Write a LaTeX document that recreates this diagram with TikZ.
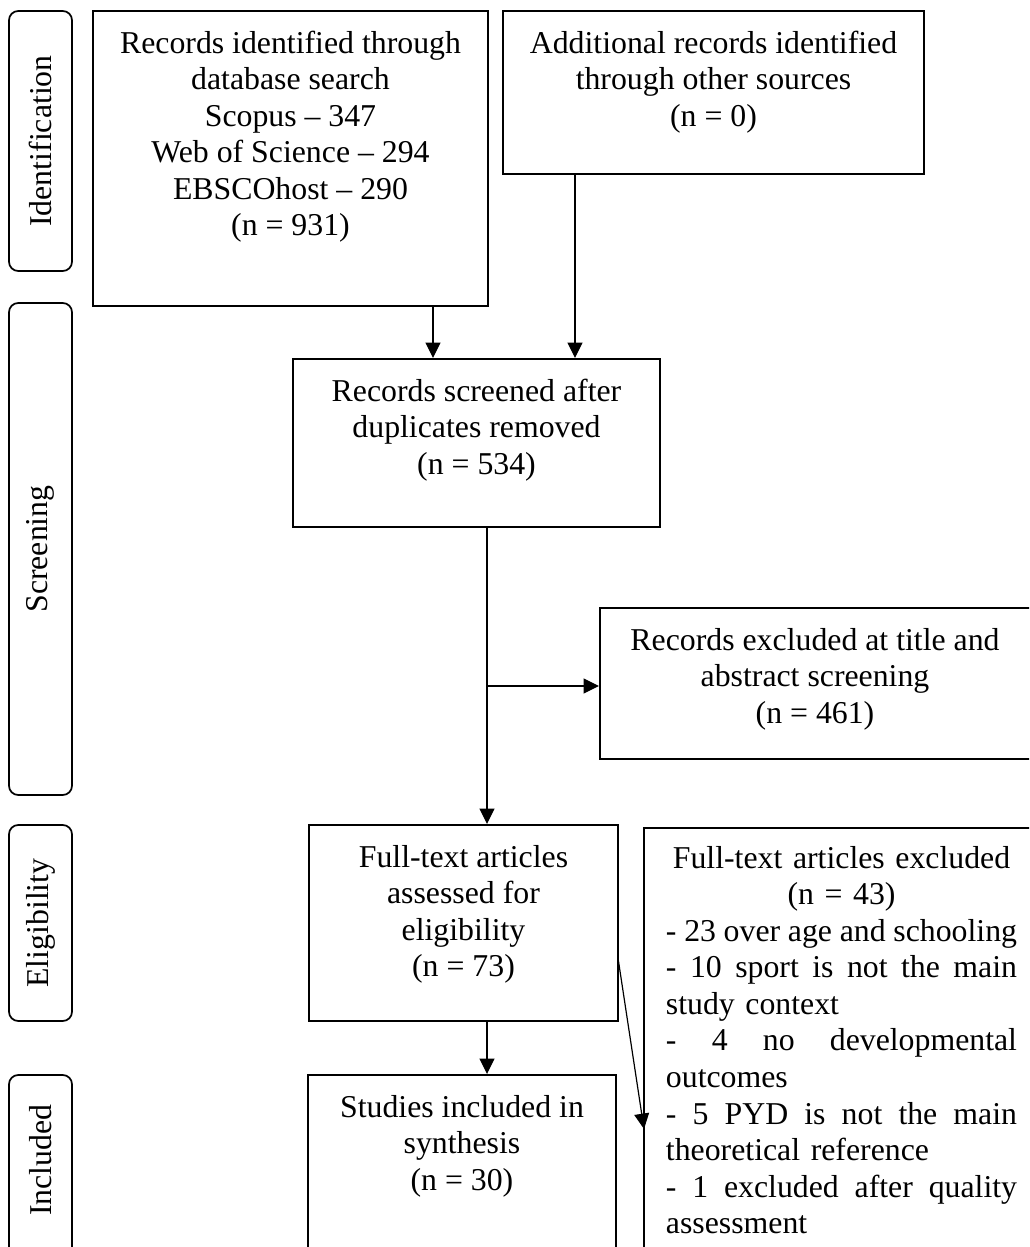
\documentclass[tikz,border=0pt]{standalone}
\usepackage{fontspec}
\setmainfont{Liberation Serif}
\usetikzlibrary{fit,arrows.meta}
\newcommand\jline[1]{\makebox[\linewidth][s]{\spaceskip=0.17em plus 3em minus 0.05em\relax #1}}
\begin{document}
\begin{tikzpicture}[x=0.3774pt,y=-0.3774pt,
  box/.style={draw,line width=0.75pt,inner sep=0pt},
  side/.style={draw,line width=0.65pt,rounded corners=3.5pt,inner sep=0pt},
  txt/.style={inner sep=0pt,font=\fontsize{12}{13.8}\selectfont,align=center,anchor=north},
  lbl/.style={inner sep=0pt,font=\fontsize{12}{13.8}\selectfont,rotate=90},
  arr/.style={line width=0.45pt,-{Triangle[length=5.8pt,width=5.6pt]}}]
\useasboundingbox (0,0) rectangle (1029,1247);
\clip (0,0) rectangle (1029,1247);
% stage labels
\node[side,fit={(9,11) (72,271)}] (s1) {};
\node[side,fit={(9,303) (72,795)}] (s2) {};
\node[side,fit={(9,825) (72,1021)}] (s3) {};
\node[side,fit={(9,1075) (72,1265)}] (s4) {};
\node[lbl] (l1) at (s1.center) {Identification};
\node[lbl] (l2) at (s2.center) {Screening};
\node[lbl] (l3) at (s3.center) {Eligibility};
\node[lbl] (l4) at (40.5,1160) {Included};
% boxes
\node[box,fit={(93,11) (488,306)}] (b1) {};
\node[box,fit={(503,11) (924,174)}] (b2) {};
\node[box,fit={(293,359) (660,527)}] (b3) {};
\node[box,fit={(600,608) (1045,759)}] (b4) {};
\node[box,fit={(309,825) (618,1021)}] (b5) {};
\node[box,fit={(644,828) (1045,1265)}] (b6) {};
\node[box,fit={(308,1075) (616,1265)}] (b7) {};
% texts
\node[txt] (t1) at (290.5,27) {\strut Records identified through\\ database search\\ Scopus \textendash{} 347\\ Web of Science \textendash{} 294\\ EBSCOhost \textendash{} 290\\ (n = 931)};
\node[txt] (t2) at (713.5,27) {\strut Additional records identified\\ through other sources\\ (n = 0)};
\node[txt] (t3) at (476.5,375) {\strut Records screened after\\ duplicates removed\\ (n = 534)};
\node[txt] (t4) at (815,624) {\strut Records excluded at title and\\ abstract screening\\ (n = 461)};
\node[txt] (t5) at (463.5,841) {\strut Full-text articles\\ assessed for\\ eligibility\\ (n = 73)};
\node[txt] (t7) at (462,1091) {\strut Studies included in\\ synthesis\\ (n = 30)};
\node[txt,text width=132.5pt,align=left] (t6) at (841.5,842) {\strut\makebox[\linewidth][c]{Full-text articles excluded}\\
\makebox[\linewidth][c]{(n = 43)}\\
\jline{- 23 over age and schooling}\\
\jline{- 10 sport is not the main}\\
study context\\
\jline{- 4 no developmental}\\
outcomes\\
\jline{- 5 PYD is not the main}\\
theoretical reference\\
\jline{- 1 excluded after quality}\\
assessment};
% connectors
\coordinate (x1) at (433,0);
\coordinate (x2) at (575,0);
\coordinate (x3) at (487,0);
\coordinate (m) at (487,686);
\coordinate (d1) at (618,958);
\coordinate (d2) at (644,1129);
\draw[arr] (b1.south -| x1) -- (b3.north -| x1);
\draw[arr] (b2.south -| x2) -- (b3.north -| x2);
\draw[arr] (b3.south -| x3) -- (b5.north -| x3);
\draw[arr] (m) -- (m -| b4.west);
\draw[arr] (b5.south -| x3) -- (b7.north -| x3);
\draw[arr] (d1) -- (d2);
\end{tikzpicture}
\end{document}
